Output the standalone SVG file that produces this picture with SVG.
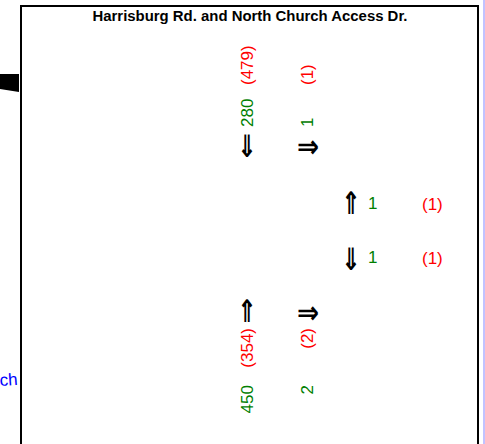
<svg xmlns="http://www.w3.org/2000/svg" width="485" height="444" viewBox="0 0 485 444">
<style>
.t{font-family:"Liberation Sans",Arial,sans-serif;font-size:17px}
.g{fill:#008000}
.r{fill:#ff0000}
.a{font-family:"DejaVu Sans",sans-serif;font-size:31px;font-weight:bold;fill:#000;text-anchor:middle}
</style>
<rect width="485" height="444" fill="#fff"/>
<line x1="484" y1="0" x2="484" y2="444" stroke="#9999ff" stroke-width="1.2"/>
<polygon points="0,74 19,74 19,92 0,89" fill="#000"/>
<text x="0" y="386" font-family="Liberation Sans,Arial,sans-serif" font-size="17" fill="#0000ff" transform="rotate(-4 0 386)">ch</text>
<g id="frame">
<rect x="21" y="6" width="457" height="460" fill="none" stroke="#000" stroke-width="2"/>
<text x="250" y="21" text-anchor="middle" font-family="Liberation Sans,Arial,sans-serif" font-size="14" font-weight="bold" textLength="315" lengthAdjust="spacingAndGlyphs">Harrisburg Rd. and North Church Access Dr.</text>
</g>
<g id="north">
<text class="t r" transform="translate(253,85) rotate(-90)">(479)</text>
<text class="t g" transform="translate(253,127) rotate(-90)">280</text>
<text class="t r" transform="translate(312.5,85) rotate(-90)">(1)</text>
<text class="t g" transform="translate(312.5,127) rotate(-90)">1</text>
<text class="a" transform="translate(247,157) scale(0.75,1)">⇓</text>
<text class="a" transform="translate(308,157) scale(0.85,1)">⇒</text>
</g>
<g id="east">
<text class="a" transform="translate(351,214) scale(0.75,1)">⇑</text>
<text class="t g" x="368" y="209">1</text>
<text class="t r" x="422" y="210">(1)</text>
<text class="a" transform="translate(351,270) scale(0.75,1)">⇓</text>
<text class="t g" x="368" y="263">1</text>
<text class="t r" x="422" y="264">(1)</text>
</g>
<g id="south">
<text class="a" transform="translate(247,322) scale(0.75,1)">⇑</text>
<text class="a" transform="translate(308,323) scale(0.85,1)">⇒</text>
<text class="t r" text-anchor="end" transform="translate(253,328) rotate(-90)">(354)</text>
<text class="t r" text-anchor="end" transform="translate(312.5,328) rotate(-90)">(2)</text>
<text class="t g" text-anchor="end" transform="translate(253,385) rotate(-90)">450</text>
<text class="t g" text-anchor="end" transform="translate(312.5,385) rotate(-90)">2</text>
</g>
</svg>
